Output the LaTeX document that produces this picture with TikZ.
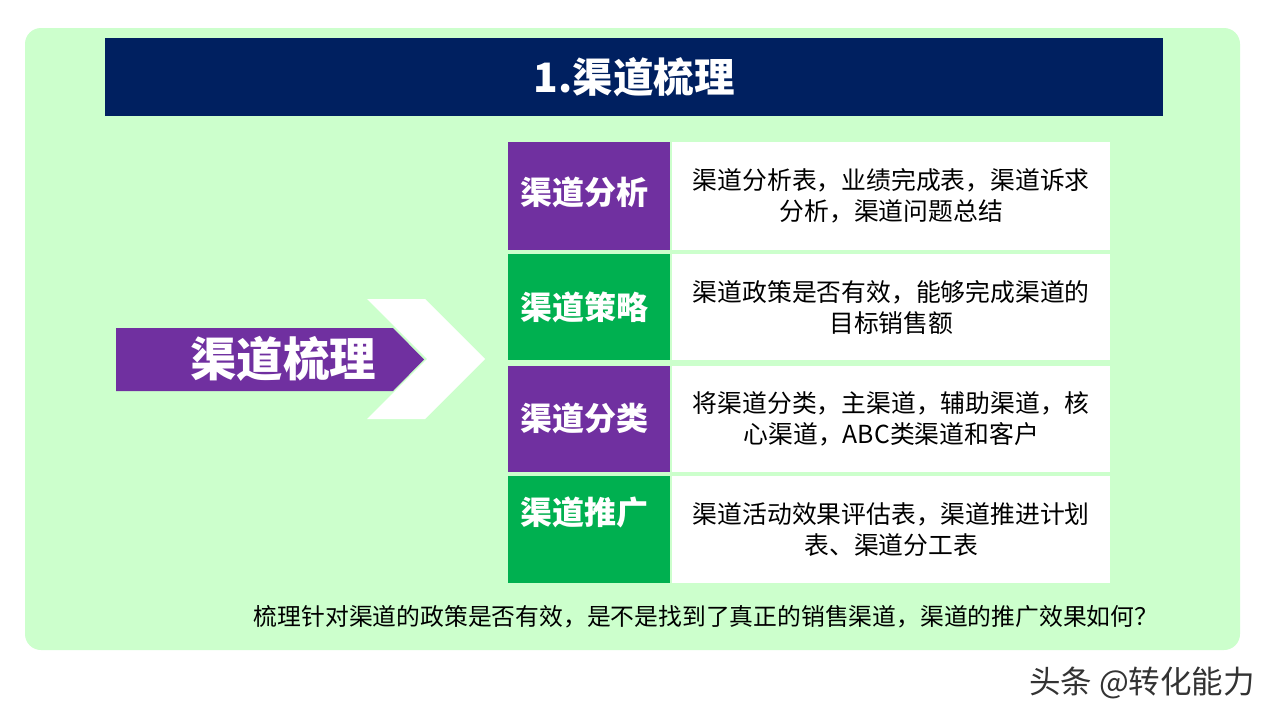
\documentclass[tikz,border=0pt]{standalone}
\usepackage{fontspec}
\newfontfamily\cjk{Noto Sans CJK SC}
\usetikzlibrary{positioning}
\definecolor{panelgreen}{HTML}{CCFFCC}
\definecolor{navy}{HTML}{002060}
\definecolor{chanpurple}{HTML}{7030A0}
\definecolor{changreen}{HTML}{00B050}

\begin{document}
\begin{tikzpicture}[x=1pt, y=-1pt,
  tag/.style={minimum width=162pt, inner sep=0pt, anchor=north west},
  desc/.style={fill=white, minimum width=438pt, inner sep=0pt, anchor=north west,
    align=center, text=black, font=\cjk\fontsize{24.8}{31}\selectfont},
  tagtext/.style={text=white, font=\cjk\bfseries\fontsize{32}{36}\selectfont}]

\fill[white] (0,0) rectangle (1280,720);
\useasboundingbox (0,0) rectangle (1280,720);

\fill[panelgreen, rounded corners=16pt] (25,28) rectangle (1240,650);

\node[fill=navy, minimum width=1058pt, minimum height=78pt, inner sep=0pt,
  anchor=north west, text=white, font=\cjk\bfseries\fontsize{40.5}{44}\selectfont]
  (title) at (105,38) {1.渠道梳理};

% arrow
\fill[white] (367,299) -- (425,299) -- (485,359) -- (425,419) -- (367,419) -- (427,359) -- cycle;
\fill[chanpurple] (116,328) -- (393,328) -- (424,359.5) -- (393,391) -- (116,391) -- cycle;
\node[text=white, font=\cjk\bfseries\fontsize{46.5}{50}\selectfont] (main) at (283,359) {渠道梳理};

% rows
\foreach \name/\col/\yt/\h/\dy/\lab/\txt in {
  ana/chanpurple/142/108/4/渠道分析/{渠道分析表，业绩完成表，渠道诉求\\分析，渠道问题总结},
  strat/changreen/254/106/0/渠道策略/{渠道政策是否有效，能够完成渠道的\\目标销售额},
  cls/chanpurple/366/106/1/渠道分类/{将渠道分类，主渠道，辅助渠道，核\\心渠道，ABC类渠道和客户},
  promo/changreen/476/107/17/渠道推广/{渠道活动效果评估表，渠道推进计划\\表、渠道分工表}} {
  \node[tag, fill=\col, minimum height=\h] (\name) at (508,\yt) {};
  \node[desc, minimum height=\h] (\name-d) at (672,\yt) {\txt};
  \node[tagtext] (\name-l) at ([xshift=-5pt, yshift=\dy pt]\name.center) {\lab};
}

\node[text=black, font=\cjk\fontsize{23.8}{28}\selectfont] (note) at (706,617)
  {梳理针对渠道的政策是否有效，是不是找到了真正的销售渠道，渠道的推广效果如何？};

\node[text=black!80, font=\cjk\fontsize{31.5}{34}\selectfont] (credit) at (1142,683) {头条 @转化能力};

\end{tikzpicture}
\end{document}
